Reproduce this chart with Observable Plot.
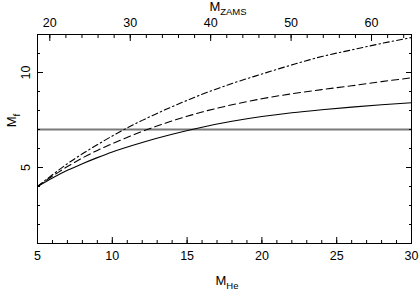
<!DOCTYPE html>
<html>
<head>
<meta charset="utf-8">
<script src="https://cdn.jsdelivr.net/npm/d3@7"></script>
<script src="https://cdn.jsdelivr.net/npm/@observablehq/plot@0.6"></script>
<style>
  html, body { margin: 0; padding: 0; background: white; }
</style>
</head>
<body>
<div id="chart"></div>
<script>
// ---- data ----
const mHe       = [5, 6, 7, 8, 9, 10, 12, 14, 16, 18, 20, 22, 24, 26, 28, 30];
const mfSolid   = [4.0, 4.45, 4.85, 5.2, 5.52, 5.82, 6.32, 6.75, 7.12, 7.43, 7.68, 7.88, 8.04, 8.18, 8.30, 8.41];
const mfDashed  = [4.0, 4.55, 5.05, 5.5, 5.9, 6.25, 6.9, 7.45, 7.92, 8.3, 8.62, 8.88, 9.1, 9.3, 9.52, 9.72];
const mfDashDot = [4.0, 4.62, 5.2, 5.72, 6.2, 6.66, 7.48, 8.2, 8.85, 9.42, 9.92, 10.4, 10.84, 11.19, 11.53, 11.84];
const mfRef = [7];
const xDomain = [5, 30];
const yDomain = [1, 12];
const zamsDomain = [18.47, 64.97];     // top axis (M_ZAMS) across the same width
const xMajor = [5, 10, 15, 20, 25, 30];
const xMinor = d3.range(5, 31, 1);
const yMajor = [5, 10];
const yMinor = d3.range(1, 13, 1);
const zamsMajor = [20, 30, 40, 50, 60];
const zamsMinor = d3.range(20, 65, 2);

// linear map between M_ZAMS and M_He
const toHe = z => xDomain[0] + (z - zamsDomain[0]) * (xDomain[1] - xDomain[0]) / (zamsDomain[1] - zamsDomain[0]);
const toZ  = h => zamsDomain[0] + (h - xDomain[0]) * (zamsDomain[1] - zamsDomain[0]) / (xDomain[1] - xDomain[0]);

const series = (ys) => mHe.map((x, i) => ({x, y: ys[i]}));

const chart = Plot.plot({
  width: 419,
  height: 291,
  marginLeft: 37,
  marginRight: 8,
  marginTop: 34,
  marginBottom: 48,
  x: {domain: xDomain, label: null},
  y: {domain: yDomain, label: null},
  style: {fontFamily: "'Liberation Sans', Arial, sans-serif", fontSize: "12.5px", background: "white", color: "black"},
  marks: [
    Plot.ruleY(mfRef, {stroke: "#7a7a7a", strokeWidth: 2}),
    Plot.line(series(mfSolid), {x: "x", y: "y", curve: "monotone-x", stroke: "black", strokeWidth: 1.1}),
    Plot.line(series(mfDashed), {x: "x", y: "y", curve: "monotone-x", stroke: "black", strokeWidth: 1.1, strokeDasharray: "7,4"}),
    Plot.line(series(mfDashDot), {x: "x", y: "y", curve: "monotone-x", stroke: "black", strokeWidth: 1.1, strokeDasharray: "6,3,1.5,3"}),
    Plot.frame({stroke: "black", strokeWidth: 1}),
    // bottom axis
    Plot.axisX({anchor: "bottom", ticks: xMinor, tickSize: -3, fill: "none", label: null}),
    Plot.axisX({anchor: "bottom", ticks: xMajor, tickSize: -6, fill: "none", label: null}),
    Plot.axisX({anchor: "bottom", ticks: xMajor, tickSize: 0, tickPadding: 8, label: null}),
    // top axis (M_ZAMS)
    Plot.axisX({anchor: "top", ticks: zamsMinor.map(toHe), tickSize: -3, fill: "none", label: null}),
    Plot.axisX({anchor: "top", ticks: zamsMajor.map(toHe), tickSize: -6, fill: "none", label: null}),
    Plot.axisX({anchor: "top", ticks: zamsMajor.map(toHe), tickSize: 0, tickPadding: 8, label: null,
                tickFormat: v => String(Math.round(toZ(v)))}),
    // left axis
    Plot.axisY({anchor: "left", ticks: yMinor, tickSize: -3, fill: "none", label: null}),
    Plot.axisY({anchor: "left", ticks: yMajor, tickSize: -6, fill: "none", label: null}),
    Plot.axisY({anchor: "left", ticks: yMajor, tickSize: 0, tickPadding: 8, tickRotate: -90, label: null}),
    // right axis
    Plot.axisY({anchor: "right", ticks: yMinor, tickSize: -3, fill: "none", label: null}),
    Plot.axisY({anchor: "right", ticks: yMajor, tickSize: -6, fill: "none", label: null})
  ]
});

document.getElementById("chart").appendChild(chart);

// axis titles with subscripts
const svg = d3.select(chart);
const xr = chart.scale("x").range;
const yr = chart.scale("y").range;
const xMid = (xr[0] + xr[1]) / 2;
const font = "'Liberation Sans', Arial, sans-serif";

function subLabel(x, y, main, sub, rotate) {
  const t = svg.append("text")
    .attr("font-family", font)
    .attr("font-size", 13)
    .attr("fill", "black")
    .attr("text-anchor", "middle")
    .attr("transform", `translate(${x},${y})` + (rotate ? ` rotate(${rotate})` : ""));
  t.append("tspan").text(main);
  t.append("tspan").attr("font-size", 9.5).attr("dy", 4).text(sub);
}
subLabel(xMid + 4, 11, "M", "ZAMS");
subLabel(xMid + 3, 285, "M", "He");
subLabel(16, (yr[0] + yr[1]) / 2 - 18, "M", "f", -90);
</script>
</body>
</html>
